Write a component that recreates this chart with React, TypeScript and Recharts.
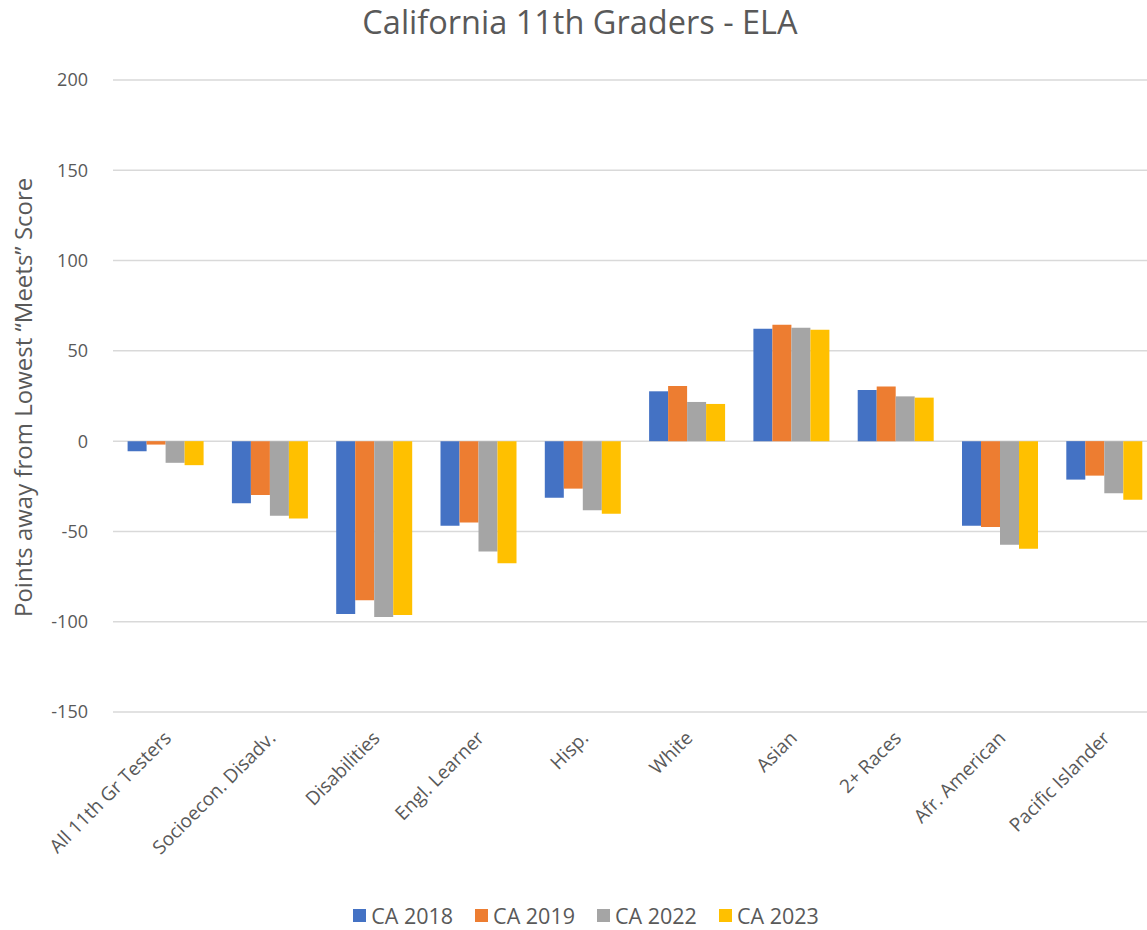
import { BarChart, Bar, XAxis, YAxis, CartesianGrid, Legend } from 'recharts'

const categories = [
  'All 11th Gr Testers',
  'Socioecon. Disadv.',
  'Disabilities',
  'Engl. Learner',
  'Hisp.',
  'White',
  'Asian',
  '2+ Races',
  'Afr. American',
  'Pacific Islander',
]

const ca2018 = [-5.6, -34.4, -95.7, -46.9, -31.3, 27.6, 62.2, 28.3, -46.9, -21.3]
const ca2019 = [-1.9, -29.8, -88.1, -45.0, -26.3, 30.6, 64.4, 30.2, -47.6, -19.1]
const ca2022 = [-12.0, -41.3, -97.4, -61.1, -38.3, 21.7, 62.8, 24.8, -57.4, -28.8]
const ca2023 = [-13.3, -42.8, -96.3, -67.6, -40.2, 20.6, 61.7, 24.1, -59.6, -32.4]

const yTicks = [-150, -100, -50, 0, 50, 100, 150, 200]

const series = [
  { key: 'CA 2018', values: ca2018, color: '#4472C4' },
  { key: 'CA 2019', values: ca2019, color: '#ED7D31' },
  { key: 'CA 2022', values: ca2022, color: '#A5A5A5' },
  { key: 'CA 2023', values: ca2023, color: '#FFC000' },
]

const data = categories.map((name, i) => {
  const row: Record<string, string | number> = { name }
  series.forEach((s) => {
    row[s.key] = s.values[i]
  })
  return row
})

const FONT = '"Open Sans", "Noto Sans", sans-serif'
const TEXT = '#595959'

function AngledTick({ x, y, payload }: any) {
  return (
    <g transform={`translate(${x + 3},${y + 15})`}>
      <text
        textAnchor="end"
        transform="rotate(-45)"
        fill={TEXT}
        fontSize={19}
        fontFamily={FONT}
        dy={6}
      >
        {payload.value}
      </text>
    </g>
  )
}

function LegendContent() {
  return (
    <div
      style={{
        display: 'flex',
        justifyContent: 'center',
        gap: 22,
        fontFamily: FONT,
        fontSize: 21.5,
        color: TEXT,
        paddingLeft: 16,
      }}
    >
      {series.map((s) => (
        <div key={s.key} style={{ display: 'flex', alignItems: 'center' }}>
          <span style={{ width: 13, height: 13, background: s.color, display: 'inline-block', marginRight: 5 }} />
          {s.key}
        </div>
      ))}
    </div>
  )
}

export default function App() {
  return (
    <div style={{ position: 'relative', width: 1147, height: 930, background: '#fff', overflow: 'hidden' }}>
      <style>{'body{margin:0}'}</style>
      <div
        style={{
          position: 'absolute',
          top: -1,
          left: 0,
          width: 1160,
          textAlign: 'center',
          fontFamily: FONT,
          fontSize: 32.5,
          color: TEXT,
        }}
      >
        California 11th Graders - ELA
      </div>
      <BarChart
        width={1147}
        height={930}
        data={data}
        margin={{ top: 80, right: -9, left: 0, bottom: 0 }}
        barCategoryGap="14%"
        barGap={0}
      >
        <CartesianGrid vertical={false} stroke="#D9D9D9" strokeWidth={1.5} />
        <XAxis
          dataKey="name"
          axisLine={false}
          tickLine={false}
          interval={0}
          height={189}
          tick={<AngledTick />}
        />
        <YAxis
          domain={[-150, 200]}
          ticks={yTicks}
          axisLine={false}
          tickLine={false}
          tickSize={0}
          tickMargin={25}
          width={113}
          tick={{ fill: TEXT, fontSize: 18, fontFamily: FONT }}
          label={{
            value: 'Points away from Lowest “Meets” Score',
            angle: -90,
            position: 'insideLeft',
            dx: 18,
            dy: 221,
            style: { fill: TEXT, fontSize: 24, fontFamily: FONT },
          }}
        />
        <Legend verticalAlign="bottom" content={<LegendContent />} />
        {series.map((s) => (
          <Bar key={s.key} dataKey={s.key} fill={s.color} isAnimationActive={false} />
        ))}
      </BarChart>
    </div>
  )
}
